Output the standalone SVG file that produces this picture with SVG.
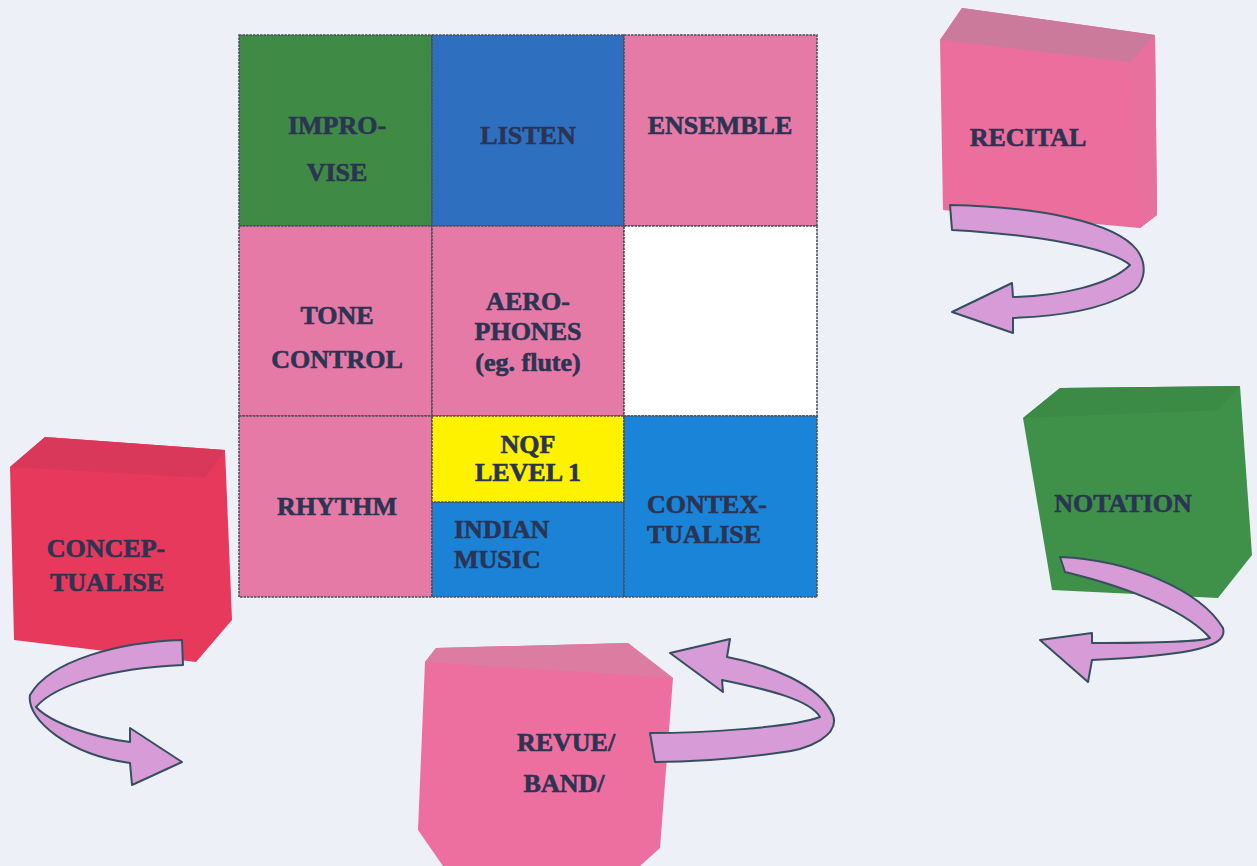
<svg xmlns="http://www.w3.org/2000/svg" width="1257" height="866" viewBox="0 0 1257 866">
<style>
.cell{stroke:#4b4f5e;stroke-width:1.6;stroke-dasharray:2.5 1}
.t{font-family:"Liberation Serif","Times New Roman",serif;font-weight:bold;font-size:26px;fill:#2b3452;stroke:#2b3452;stroke-width:0.6;text-anchor:middle}
.l{text-anchor:start}
.pink{fill:#e67aa6}
.arrow{fill:#d79bd8;stroke:#34505e;stroke-width:2;stroke-linejoin:round}
</style>
<rect width="1257" height="866" fill="#eef0f8"/>
<g id="grid">
<g id="improvise"><rect class="cell" x="239" y="35" width="193" height="191" fill="#3f8a45"/><text class="t" x="337" y="134">IMPRO-</text><text class="t" x="337" y="181">VISE</text></g>
<g id="listen"><rect class="cell" x="432" y="35" width="192" height="191" fill="#2f6fbf"/><text class="t" x="528" y="144">LISTEN</text></g>
<g id="ensemble"><rect class="cell pink" x="624" y="35" width="193" height="191"/><text class="t" x="720" y="134">ENSEMBLE</text></g>
<g id="tone-control"><rect class="cell pink" x="239" y="226" width="193" height="190"/><text class="t" x="337" y="324">TONE</text><text class="t" x="337" y="368">CONTROL</text></g>
<g id="aerophones"><rect class="cell pink" x="432" y="226" width="192" height="190"/><text class="t" x="528" y="310">AERO-</text><text class="t" x="528" y="340">PHONES</text><text class="t" x="528" y="371">(eg. flute)</text></g>
<g id="empty"><rect class="cell" x="624" y="226" width="193" height="190" fill="#ffffff"/></g>
<g id="rhythm"><rect class="cell pink" x="239" y="416" width="193" height="181"/><text class="t" x="337" y="515">RHYTHM</text></g>
<g id="indian-music"><rect class="cell" x="432" y="502" width="192" height="95" fill="#1c82d6"/><text class="t l" x="454" y="538">INDIAN</text><text class="t l" x="454" y="568">MUSIC</text></g>
<g id="nqf"><rect class="cell" x="432" y="416" width="192" height="86" fill="#fff200"/><text class="t" x="528" y="453">NQF</text><text class="t" x="528" y="481">LEVEL 1</text></g>
<g id="contextualise"><rect class="cell" x="624" y="416" width="193" height="181" fill="#1a84d8"/><text class="t l" x="647" y="513">CONTEX-</text><text class="t l" x="647" y="543">TUALISE</text></g>
</g>
<g id="recital">
<polygon points="940,40 962,8 1155,35 1157,215 1140,228 943,210" fill="#ec6e9c"/>
<polygon points="940,40 962,8 1155,35 1130,62" fill="#cc7a9c"/>
<polygon points="1130,62 1155,35 1157,215 1140,228" fill="#e8709d"/>
<text class="t" x="1028" y="146">RECITAL</text>
</g>
<g id="conceptualise">
<polygon points="10,467 45,437 225,450 232,620 196,662 14,640" fill="#e6395c"/>
<polygon points="10,467 45,437 225,450 205,478" fill="#da385b"/>
<text class="t" x="106" y="557">CONCEP-</text>
<text class="t" x="107" y="591">TUALISE</text>
</g>
<g id="notation">
<polygon points="1023,418 1060,388 1240,386 1252,555 1218,598 1052,590" fill="#3f9049"/>
<polygon points="1023,418 1060,388 1240,386 1218,410" fill="#3b8a45"/>
<text class="t" x="1123" y="512">NOTATION</text>
</g>
<g id="revue-band">
<polygon points="425,662 436,648 628,643 673,678 660,848 640,866 443,866 418,830" fill="#ec6fa0"/>
<polygon points="425,662 436,648 628,643 673,678" fill="#dc7ca0"/>
<text class="t" x="566" y="751">REVUE/</text>
<text class="t" x="564" y="792">BAND/</text>
</g>
<g id="connectors">
<path class="arrow" d="M950,205 C1040,207 1115,222 1137,250 C1150,268 1142,288 1130,293 C1100,310 1060,316 1013,318 L1013,333 L952,312 L1012,283 L1013,297 C1060,296 1110,285 1130,265 C1110,248 1040,235 952,230 Z"/>
<path class="arrow" d="M182,640 C120,642 50,660 30,695 C26,720 70,755 130,763 L132,785 L182,762 L130,728 L130,742 C90,737 50,722 36,707 C55,685 110,668 183,665 Z"/>
<path class="arrow" d="M1060,557 C1130,560 1200,590 1223,628 C1228,645 1200,655 1092,660 L1088,682 L1040,640 L1092,633 L1092,643 C1150,643 1200,642 1210,638 C1190,615 1140,590 1065,572 Z"/>
<path class="arrow" d="M650,733 C700,733 790,728 820,717 C810,700 770,690 722,680 L723,692 L670,653 L730,639 L727,657 C770,665 820,685 833,715 C840,735 810,750 777,753 C740,758 690,762 655,762 Z"/>
</g>
</svg>
